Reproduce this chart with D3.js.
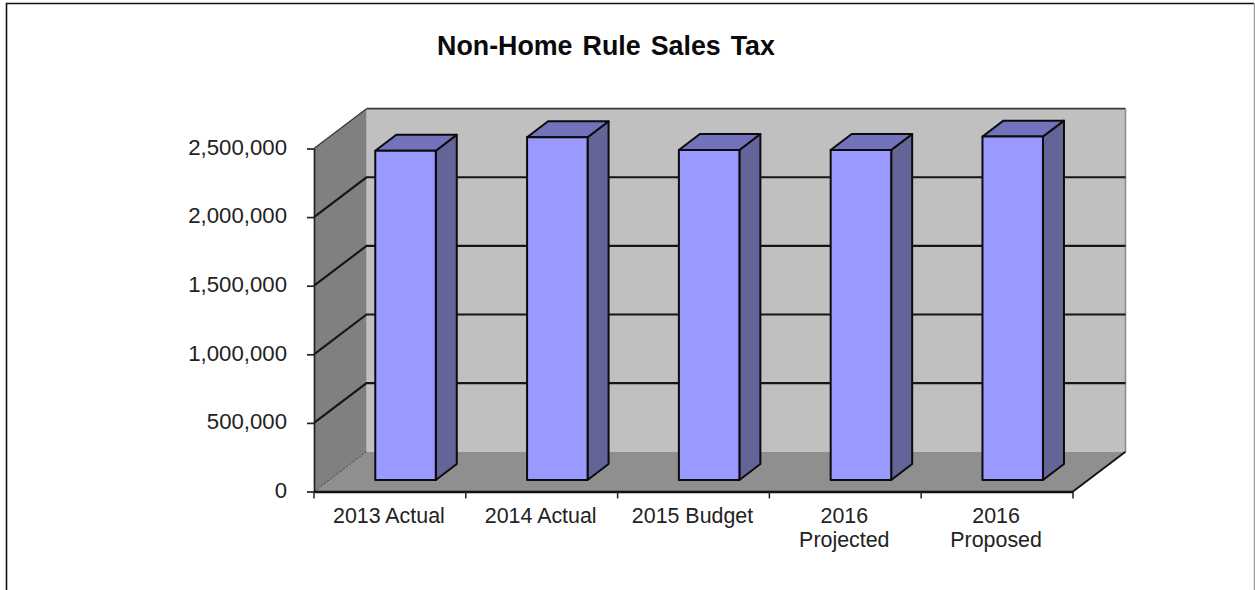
<!DOCTYPE html>
<html>
<head>
<meta charset="utf-8">
<script src="https://cdn.jsdelivr.net/npm/d3@7"></script>
<style>
  html, body { margin: 0; padding: 0; background: #fff; }
  svg { display: block; }
  text { font-family: "Liberation Sans", Arial, sans-serif; fill: #222; }
</style>
</head>
<body>
<svg id="chart" width="1255" height="590"></svg>
<script>
// Non-home rule sales tax revenue by budget period
const categories = [["2013 Actual"], ["2014 Actual"], ["2015 Budget"], ["2016", "Projected"], ["2016", "Proposed"]];
const categoryKeys = ["2013 Actual", "2014 Actual", "2015 Budget", "2016 Projected", "2016 Proposed"];
const salesTax = [2400000, 2498000, 2405000, 2405000, 2503000];
const yTicks = [0, 500000, 1000000, 1500000, 2000000, 2500000];
const chartTitle = "Non-Home Rule Sales Tax";

const svg = d3.select("#chart");

// Plot box: front plane plus a receding depth offset
const front = { left: 314, right: 1073, bottom: 491.5, top: 148.5 };
const depth = { dx: 52.5, dy: -39.8 };
const barDepthStart = 0.29, barDepthEnd = 0.69;

const x = d3.scaleBand().domain(categoryKeys).range([front.left, front.right]).paddingInner(0).paddingOuter(0);
const y = d3.scaleLinear().domain([0, 2500000]).range([front.bottom, front.top]);
const barWidth = 60.5;

// Shift a front-plane point back by a fraction of the depth
const at = (px, py, t) => [px + depth.dx * t, py + depth.dy * t];
const poly = pts => pts.map(p => p.join(",")).join(" ");

// Outer frame
svg.append("path").attr("d", "M6.5,590V3.5H1254").attr("fill", "none").attr("stroke", "#111").attr("stroke-width", 1.6);
svg.append("path").attr("d", "M1254.5,3.5V590").attr("fill", "none").attr("stroke", "#999").attr("stroke-width", 1.4);

// Back wall, side wall and floor
const backTL = at(front.left, front.top, 1), backBR = at(front.right, front.bottom, 1);
svg.append("rect").attr("x", backTL[0]).attr("y", backTL[1])
  .attr("width", backBR[0] - backTL[0]).attr("height", backBR[1] - backTL[1])
  .attr("fill", "#c0c0c0");
svg.append("polygon").attr("fill", "#808080")
  .attr("points", poly([[front.left, front.top], at(front.left, front.top, 1), at(front.left, front.bottom, 1), [front.left, front.bottom]]));
svg.append("polygon").attr("fill", "#8f8f8f")
  .attr("points", poly([[front.left, front.bottom], [front.right, front.bottom], at(front.right, front.bottom, 1), at(front.left, front.bottom, 1)]));

// Wall edges
svg.append("line").attr("x1", backTL[0]).attr("y1", backTL[1]).attr("x2", backBR[0]).attr("y2", backTL[1])
  .attr("stroke", "#3a3a3a").attr("stroke-width", 1.8);
svg.append("line").attr("x1", backBR[0]).attr("y1", backTL[1]).attr("x2", backBR[0]).attr("y2", backBR[1])
  .attr("stroke", "#8c8c8c").attr("stroke-width", 1.6);
svg.append("line").attr("x1", front.left).attr("y1", front.top).attr("x2", backTL[0]).attr("y2", backTL[1])
  .attr("stroke", "#333").attr("stroke-width", 1.2);
svg.append("line").attr("x1", front.left).attr("y1", front.bottom).attr("x2", backTL[0]).attr("y2", backBR[1])
  .attr("stroke", "#333").attr("stroke-width", 0.8).attr("stroke-dasharray", "3,1");
svg.append("line").attr("x1", front.right).attr("y1", front.bottom).attr("x2", backBR[0]).attr("y2", backBR[1])
  .attr("stroke", "#111").attr("stroke-width", 1.8);

// Gridlines run along the side wall and across the back wall
const gridValues = yTicks.filter(v => v > 0 && v < 2500000);
svg.append("g").selectAll("path").data(gridValues).join("path")
  .attr("fill", "none").attr("stroke", "#151515").attr("stroke-width", 2.1)
  .attr("d", v => {
    const a = at(front.left, y(v), 1), b = at(front.right, y(v), 1);
    return `M${front.left},${y(v)}L${a[0]},${a[1]}H${b[0]}`;
  });

// Value axis on the front plane
const yAxis = svg.append("g").attr("transform", `translate(${front.left},0)`)
  .call(d3.axisLeft(y).tickValues(yTicks).tickSize(7).tickPadding(20).tickSizeOuter(0).tickFormat(d3.format(",")));
yAxis.selectAll("path, line").attr("stroke", "#222").attr("stroke-width", 1.7);
yAxis.selectAll("text").attr("font-size", 22.2).attr("dy", "0.26em");

// Category axis on the front plane
const xAxis = svg.append("g").attr("transform", `translate(0,${front.bottom})`)
  .call(d3.axisBottom(x).tickSize(0).tickFormat(""));
xAxis.select("path").attr("stroke", "#111").attr("stroke-width", 2.6);
xAxis.selectAll(".tick").remove();
svg.append("g").selectAll("line").data(d3.range(categoryKeys.length + 1)).join("line")
  .attr("x1", i => front.left + i * x.step()).attr("x2", i => front.left + i * x.step())
  .attr("y1", front.bottom).attr("y2", front.bottom + 7)
  .attr("stroke", "#222").attr("stroke-width", 1.5);

// Category labels, wrapped onto two lines where needed
svg.append("g").selectAll("text").data(categories).join("text")
  .attr("text-anchor", "middle").attr("font-size", 21.4)
  .attr("transform", (d, i) => `translate(${x(categoryKeys[i]) + x.bandwidth() / 2 - 1},522.5)`)
  .selectAll("tspan").data(d => d).join("tspan")
  .attr("x", 0).attr("y", (d, i) => i * 24).text(d => d);

// Bars as three visible faces
const barLayer = svg.append("g");
salesTax.forEach((v, i) => {
  const cx = x(categoryKeys[i]) + x.bandwidth() / 2 + 0.4;
  const l = cx - barWidth / 2, r = cx + barWidth / 2;
  const base = y(0), top = y(v);
  const g = barLayer.append("g")
    .attr("stroke", "#0b0b0b").attr("stroke-width", 2).attr("stroke-linejoin", "round");
  g.append("polygon").attr("fill", "#646499").attr("points", poly([
    at(r, top, barDepthStart), at(r, top, barDepthEnd), at(r, base, barDepthEnd), at(r, base, barDepthStart)]));
  g.append("polygon").attr("fill", "#7373bd").attr("points", poly([
    at(l, top, barDepthStart), at(l, top, barDepthEnd), at(r, top, barDepthEnd), at(r, top, barDepthStart)]));
  g.append("polygon").attr("fill", "#9999ff").attr("points", poly([
    at(l, top, barDepthStart), at(r, top, barDepthStart), at(r, base, barDepthStart), at(l, base, barDepthStart)]));
});

// Title
svg.append("text").attr("x", 606).attr("y", 54.5).attr("text-anchor", "middle")
  .attr("font-size", 26.8).attr("font-weight", "bold").attr("word-spacing", "2.6px")
  .style("fill", "#0a0a0a").text(chartTitle);
</script>
</body>
</html>
